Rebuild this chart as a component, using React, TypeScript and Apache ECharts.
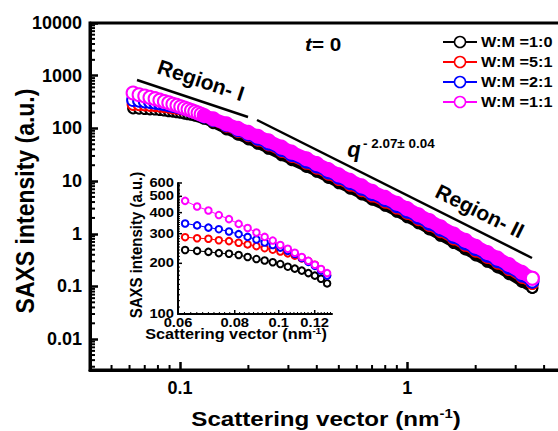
import React, { useEffect, useRef } from "react";
import * as echarts from "echarts";

const FONT = '"Liberation Sans", Arial, Helvetica, sans-serif';

// ---- data: inset range (also used in main plot) ----
const qInset = [0.0622, 0.0661, 0.07, 0.0738, 0.0777, 0.0816, 0.0854, 0.0893, 0.0931, 0.097, 0.1008, 0.1047, 0.1085, 0.1124, 0.1162, 0.1201, 0.1239, 0.1278];
const insetBlack = [240, 237, 234, 230, 228, 224, 218, 212, 208, 203, 198, 191, 186, 181, 175, 169, 162, 152];
const insetRed = [286, 282, 280, 274, 271, 265, 259, 253, 246, 241, 235, 229, 222, 214, 206, 196, 184, 170];
const insetBlue = [345, 336, 326, 319, 309, 298, 287, 277, 266, 257, 248, 237, 227, 215, 204, 193, 181, 169];
const insetMagenta = [470, 435, 412, 387, 366, 343, 324, 305, 287, 273, 257, 244, 231, 218, 207, 196, 185, 175];

// ---- data: rest of the main curves ----
const qMain = [0.14, 0.16, 0.18, 0.2, 0.22, 0.245, 0.28, 0.31, 0.36, 0.4, 0.45, 0.5, 0.56, 0.63, 0.7, 0.8, 0.9, 1.0, 1.12, 1.25, 1.4, 1.6, 1.8, 2.0, 2.25, 2.5, 2.8, 3.2, 3.55];
const mainBlack = [126, 96, 76, 62, 51, 41, 31, 25, 18.6, 15, 11.5, 9.1, 7.2, 5.6, 4.45, 3.4, 2.62, 2.06, 1.58, 1.21, 0.92, 0.67, 0.505, 0.39, 0.295, 0.23, 0.172, 0.122, 0.094];
const mainRed = [140, 110, 88, 73, 60, 48.5, 36.5, 29.3, 21.8, 17.6, 13.5, 10.7, 8.4, 6.6, 5.2, 3.98, 3.08, 2.43, 1.86, 1.44, 1.1, 0.8, 0.605, 0.468, 0.355, 0.278, 0.21, 0.149, 0.114];
const mainBlue = [145, 115, 92, 76.5, 63.5, 51.5, 39, 31.3, 23.4, 18.9, 14.6, 11.6, 9.1, 7.15, 5.65, 4.32, 3.35, 2.64, 2.02, 1.56, 1.19, 0.87, 0.655, 0.508, 0.385, 0.302, 0.228, 0.162, 0.124];
const mainMagenta = [152, 122, 100, 84, 71, 58, 44, 35.4, 26.5, 21.4, 16.5, 13.1, 10.3, 8.1, 6.4, 4.9, 3.8, 3.0, 2.3, 1.78, 1.36, 0.99, 0.75, 0.58, 0.44, 0.345, 0.26, 0.185, 0.143];

const seriesNames = ["W:M =1:0", "W:M =5:1", "W:M =2:1", "W:M =1:1"];
const seriesColors = ["#000000", "#ff0000", "#0000ff", "#ff00ff"];
const insetSets = [insetBlack, insetRed, insetBlue, insetMagenta];
const mainSets = [mainBlack, mainRed, mainBlue, mainMagenta];

// ---- tick labels ----
const mainXTicks = ["0.1", "1"];
const mainYTicks = ["0.01", "0.1", "1", "10", "100", "1000", "10000"];
const insetXTicks = ["0.06", "0.08", "0.1", "0.12"];
const insetYTicks = ["100", "200", "300", "400", "500", "600"];

// axis ranges
const X0 = 0.0402, X1 = 5.2, Y0 = 0.0026, Y1 = 10000;
const IX0 = 0.06, IX1 = 0.131, IY0 = 100, IY1 = 600;

const symSizes = [10, 11, 12, 13];
const bandWidths = [10, 10, 11, 13];

const pickLabel = (labels: string[]) => (v: number) => {
  const hit = labels.find((l) => Math.abs(Math.log10(parseFloat(l)) - Math.log10(v)) < 1e-6);
  return hit ?? "";
};

function minorLog(lo: number, hi: number) {
  const out: number[] = [];
  for (let e = -3; e <= 4; e++) {
    const d = Math.pow(10, e);
    for (let m = 2; m <= 9; m++) {
      const v = m * d;
      if (v > lo && v < hi) out.push(v);
    }
  }
  return out;
}

function tickSeries(xi: number, yi: number, dir: "x" | "y", values: number[], anchor: number, len: number, width: number) {
  return {
    type: "custom",
    xAxisIndex: xi,
    yAxisIndex: yi,
    silent: true,
    clip: false,
    z: 20,
    data: values.map((v) => (dir === "x" ? [v, anchor] : [anchor, v])),
    renderItem: (_p: any, api: any) => {
      const p = api.coord([api.value(0), api.value(1)]);
      return {
        type: "line",
        shape: dir === "x" ? { x1: p[0], y1: p[1], x2: p[0], y2: p[1] - len } : { x1: p[0], y1: p[1], x2: p[0] + len, y2: p[1] },
        style: { stroke: "#000", lineWidth: width },
      };
    },
  };
}

function labelSeries(xi: number, yi: number, dir: "x" | "y", labels: string[], anchor: number) {
  return {
    type: "custom",
    xAxisIndex: xi,
    yAxisIndex: yi,
    silent: true,
    clip: false,
    z: 20,
    data: labels.map((l) => (dir === "x" ? [parseFloat(l), anchor] : [anchor, parseFloat(l)])),
    renderItem: (params: any, api: any) => {
      const p = api.coord([api.value(0), api.value(1)]);
      const isX = dir === "x";
      return {
        type: "text",
        x: isX ? p[0] : p[0] - 4,
        y: isX ? p[1] + 2 : p[1],
        scaleX: 1.18,
        style: {
          text: labels[params.dataIndex],
          fill: "#000",
          font: `bold 12.5px ${FONT}`,
          align: isX ? "center" : "right",
          verticalAlign: isX ? "top" : "middle",
          textAlign: isX ? "center" : "right",
          textVerticalAlign: isX ? "top" : "middle",
        },
      };
    },
  };
}

function buildOption() {
  const series: any[] = [];
  seriesColors.forEach((color, i) => {
    const pts = qInset.map((q, j) => [q, insetSets[i][j]]).concat(qMain.map((q, j) => [q, mainSets[i][j]]));
    const band = pts.filter((p) => p[0] >= qInset[qInset.length - 1]);
    series.push({
      name: seriesNames[i],
      type: "line",
      xAxisIndex: 0,
      yAxisIndex: 0,
      data: pts,
      symbol: "emptyCircle",
      symbolSize: symSizes[i],
      showAllSymbol: true,
      lineStyle: { color, width: 1 },
      itemStyle: { color, borderColor: color, borderWidth: 1.5 },
      z: 2 + i * 2,
    });
    series.push({
      type: "line",
      xAxisIndex: 0,
      yAxisIndex: 0,
      data: band.map((p, k) =>
        k === band.length - 1 ? { value: p, symbol: "emptyCircle", symbolSize: symSizes[i] } : { value: p }
      ),
      symbol: "none",
      showAllSymbol: true,
      lineStyle: { color, width: bandWidths[i], cap: "round", join: "round" },
      itemStyle: { color, borderColor: color, borderWidth: 1.5 },
      z: 3 + i * 2,
    });
    series.push({
      type: "line",
      xAxisIndex: 1,
      yAxisIndex: 1,
      data: qInset.map((q, j) => [q, insetSets[i][j]]),
      symbol: "emptyCircle",
      symbolSize: 6.5,
      showAllSymbol: true,
      lineStyle: { color, width: 1 },
      itemStyle: { color, borderColor: color, borderWidth: 1.8 },
      z: 2 + i * 2,
    });
  });

  // minor ticks main
  series.push(tickSeries(0, 0, "x", minorLog(X0, X1), Y0, 5, 2));
  series.push(tickSeries(0, 0, "y", minorLog(Y0, Y1), X0, 5, 2));
  // inset ticks
  const ixMinor: number[] = [];
  for (let k = 31; k <= 65; k++) if (k % 10 !== 0) ixMinor.push(k * 0.002);
  const iyMinor: number[] = [];
  for (let k = 11; k <= 59; k++) if (k % 10 !== 0) iyMinor.push(k * 10);
  series.push(tickSeries(1, 1, "x", ixMinor, IY0, 2, 1));
  series.push(tickSeries(1, 1, "y", iyMinor, IX0, 2, 1));
  series.push(tickSeries(1, 1, "x", insetXTicks.map(parseFloat), IY0, 4, 1.5));
  series.push(tickSeries(1, 1, "y", insetYTicks.map(parseFloat), IX0, 4, 1.5));
  series.push(labelSeries(1, 1, "x", insetXTicks, IY0));
  series.push(labelSeries(1, 1, "y", insetYTicks, IX0));

  const axisLabelMain = { fontSize: 18, fontWeight: "bold", color: "#000", fontFamily: FONT };

  const graphic: any[] = [];
  // axis titles
  graphic.push({
    type: "text", x: 25, y: 201, rotation: Math.PI / 2, scaleY: 1.12,
    style: { text: "SAXS intensity (a.u.)", font: `bold 23px ${FONT}`, fill: "#000", align: "center", verticalAlign: "middle", textAlign: "center", textVerticalAlign: "middle" },
  });
  graphic.push({
    type: "text", x: 326, y: 419, scaleX: 1.15,
    style: {
      text: "{a|Scattering vector (nm}{s|-1}{a|)}",
      rich: {
        a: { fontSize: 21, fontWeight: "bold", fontFamily: FONT, fill: "#000", lineHeight: 24 },
        s: { fontSize: 13, fontWeight: "bold", fontFamily: FONT, fill: "#000", verticalAlign: "top", lineHeight: 13 },
      },
      align: "center", verticalAlign: "middle", textAlign: "center", textVerticalAlign: "middle",
    },
  });
  // inset titles
  graphic.push({
    type: "text", x: 136, y: 245, rotation: Math.PI / 2, scaleY: 1.12,
    style: { text: "SAXS intensity (a.u.)", font: `bold 15px ${FONT}`, fill: "#000", align: "center", verticalAlign: "middle", textAlign: "center", textVerticalAlign: "middle" },
  });
  graphic.push({
    type: "text", x: 236, y: 334, scaleX: 1.16,
    style: {
      text: "{a|Scattering vector (nm}{s|-1}{a|)}",
      rich: {
        a: { fontSize: 14, fontWeight: "bold", fontFamily: FONT, fill: "#000", lineHeight: 16 },
        s: { fontSize: 9, fontWeight: "bold", fontFamily: FONT, fill: "#000", verticalAlign: "top", lineHeight: 9 },
      },
      align: "center", verticalAlign: "middle", textAlign: "center", textVerticalAlign: "middle",
    },
  });
  // t = 0
  graphic.push({
    type: "text", x: 305, y: 45, scaleX: 1.15,
    style: {
      text: "{i|t}{n|= 0}",
      rich: {
        i: { fontSize: 18, fontWeight: "bold", fontStyle: "italic", fontFamily: FONT, fill: "#000" },
        n: { fontSize: 18, fontWeight: "bold", fontFamily: FONT, fill: "#000" },
      },
      align: "left", verticalAlign: "middle", textAlign: "left", textVerticalAlign: "middle",
    },
  });
  // region guide lines
  graphic.push({ type: "line", shape: { x1: 137, y1: 80, x2: 248, y2: 117 }, style: { stroke: "#000", lineWidth: 2.5 } });
  graphic.push({ type: "line", shape: { x1: 257, y1: 120, x2: 532, y2: 258 }, style: { stroke: "#000", lineWidth: 2.5 } });
  graphic.push({
    type: "text", x: 201, y: 80, rotation: -0.32,
    style: { text: "Region- I", font: `bold 21px ${FONT}`, fill: "#000", align: "center", verticalAlign: "middle", textAlign: "center", textVerticalAlign: "middle" },
  });
  graphic.push({
    type: "text", x: 480, y: 211, rotation: -0.46,
    style: { text: "Region- II", font: `bold 21px ${FONT}`, fill: "#000", align: "center", verticalAlign: "middle", textAlign: "center", textVerticalAlign: "middle" },
  });
  // power law label
  graphic.push({
    type: "text", x: 354, y: 149.5,
    style: { text: "q", font: `italic bold 22px ${FONT}`, fill: "#000", align: "center", verticalAlign: "middle", textAlign: "center", textVerticalAlign: "middle" },
  });
  graphic.push({
    type: "text", x: 363, y: 144, scaleX: 1.12,
    style: { text: "- 2.07\u00b1 0.04", font: `bold 12px ${FONT}`, fill: "#000", align: "left", verticalAlign: "middle", textAlign: "left", textVerticalAlign: "middle" },
  });
  // legend
  const rowY = [42, 62, 82, 102];
  seriesNames.forEach((n, i) => {
    const y = rowY[i];
    graphic.push({ type: "line", shape: { x1: 443, y1: y, x2: 477, y2: y }, style: { stroke: seriesColors[i], lineWidth: 2 }, z: 100 });
    graphic.push({ type: "circle", shape: { cx: 460, cy: y, r: 5.5 }, style: { fill: "#fff", stroke: seriesColors[i], lineWidth: 1.5 }, z: 101 });
    graphic.push({
      type: "text", x: 481, y, scaleX: 1.16, z: 101,
      style: { text: n, font: `bold 14px ${FONT}`, fill: "#000", align: "left", verticalAlign: "middle", textAlign: "left", textVerticalAlign: "middle" },
    });
  });

  return {
    animation: false,
    backgroundColor: "#fff",
    grid: [
      { left: 90, top: 23, width: 480, height: 347, show: true, borderColor: "#000", borderWidth: 3, backgroundColor: "transparent", outerBoundsMode: "none", containLabel: false },
      { left: 178, top: 183, width: 154, height: 131, show: false, outerBoundsMode: "none", containLabel: false },
    ],
    xAxis: [
      {
        type: "log", gridIndex: 0, min: X0, max: X1,
        axisLine: { show: true, lineStyle: { color: "#000", width: 3 } },
        axisTick: { show: true, inside: true, length: 8, lineStyle: { color: "#000", width: 2.5 } },
        axisLabel: { ...axisLabelMain, margin: 9, formatter: pickLabel(mainXTicks) },
        splitLine: { show: false }, minorTick: { show: false },
      },
      {
        type: "log", gridIndex: 1, min: IX0, max: IX1,
        axisLine: { show: true, lineStyle: { color: "#000", width: 2 } },
        axisTick: { show: false }, axisLabel: { show: false }, splitLine: { show: false },
      },
    ],
    yAxis: [
      {
        type: "log", gridIndex: 0, min: Y0, max: Y1,
        axisLine: { show: true, lineStyle: { color: "#000", width: 3 } },
        axisTick: { show: true, inside: true, length: 8, lineStyle: { color: "#000", width: 2.5 } },
        axisLabel: { ...axisLabelMain, margin: 8, formatter: pickLabel(mainYTicks) },
        splitLine: { show: false }, minorTick: { show: false },
      },
      {
        type: "log", gridIndex: 1, min: IY0, max: IY1,
        axisLine: { show: true, lineStyle: { color: "#000", width: 2 } },
        axisTick: { show: false }, axisLabel: { show: false }, splitLine: { show: false },
      },
    ],
    series,
    graphic,
  };
}

export default function App() {
  const ref = useRef<HTMLDivElement>(null);
  useEffect(() => {
    if (!ref.current) return;
    const chart = echarts.init(ref.current, null, { renderer: "svg" });
    chart.setOption(buildOption() as any);
    return () => chart.dispose();
  }, []);
  return (
    <div
      ref={ref}
      style={{ position: "fixed", left: 0, top: 0, width: 558, height: 431, background: "#fff" }}
    />
  );
}
